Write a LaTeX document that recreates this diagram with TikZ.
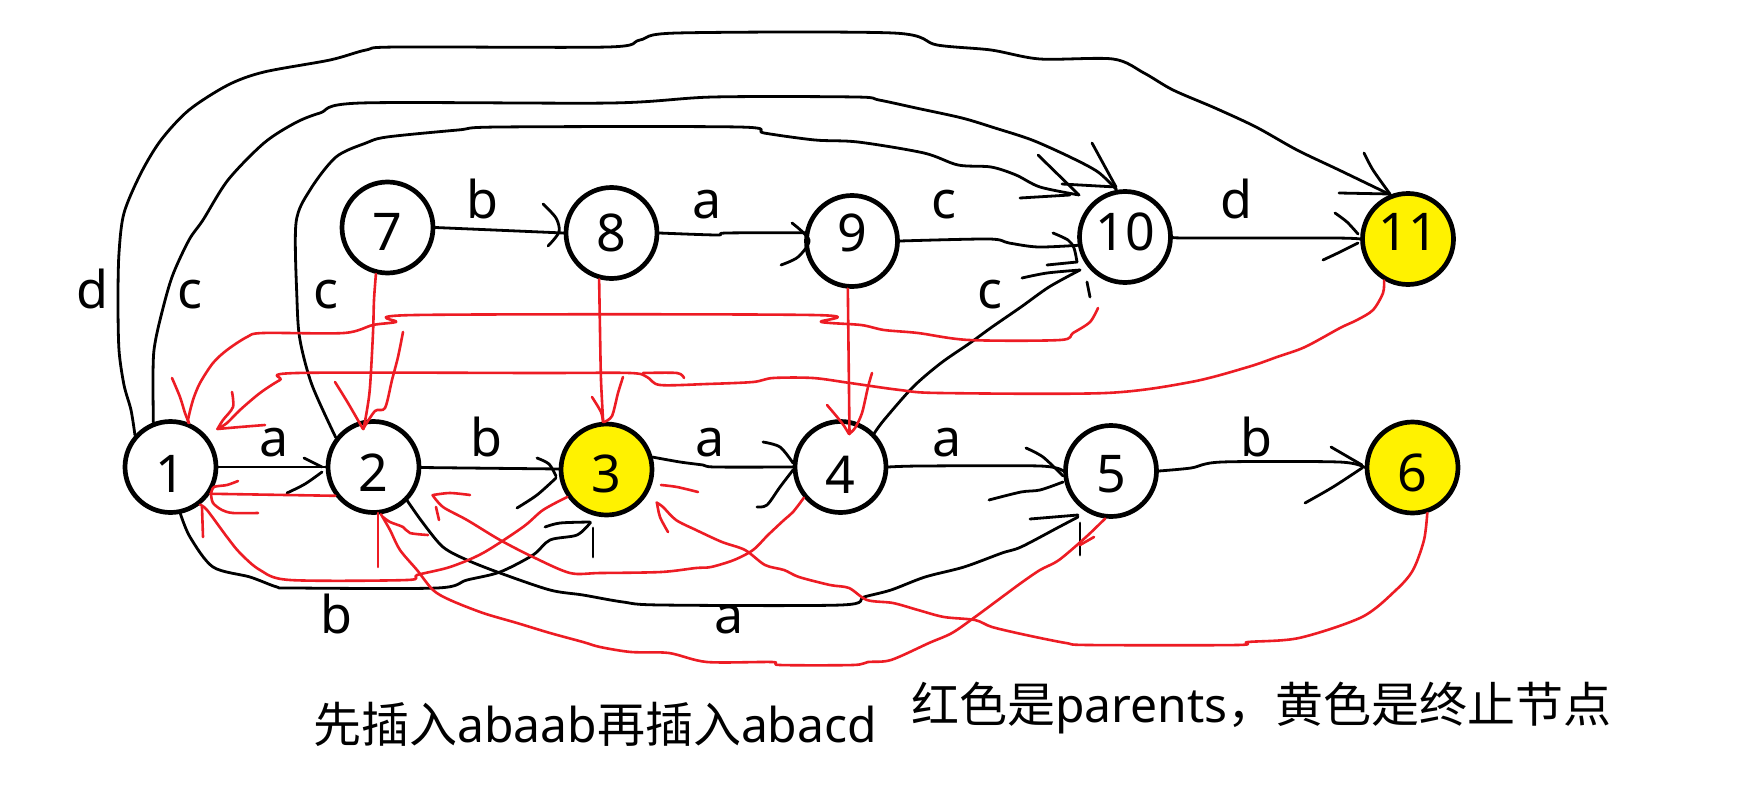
\documentclass[tikz,border=0pt]{standalone}
\usepackage{fontspec}
\setmainfont{Noto Sans}
\newfontfamily\cjk{Noto Sans CJK SC}
\usetikzlibrary{calc}
\definecolor{pred}{RGB}{237,28,36}
\definecolor{pyel}{RGB}{255,242,0}
\begin{document}
\begin{tikzpicture}[x=1pt,y=-1pt,
  st/.style={circle,draw=black,line width=4.7pt,minimum size=91pt,inner sep=0pt,fill=white},
  fin/.style={st,fill=pyel},
  dig/.style={font=\fontsize{52}{60}\selectfont,inner sep=0pt},
  blk/.style={draw=black,line width=2.8pt,line cap=round,line join=round},
  rd/.style={draw=pred,line width=2.6pt,line cap=round,line join=round},
  lab/.style={font=\fontsize{52}{60}\selectfont,anchor=base,inner sep=0pt},
  sm/.style={smooth,tension=0.5},
  txt/.style={font=\fontsize{48}{58}\selectfont,anchor=base west,inner sep=0pt}
]
\fill[white] (0,0) rectangle (1742,800);
\useasboundingbox (0,0) rectangle (1742,800);

% states
\node[st]  (n1)  at (170.5,467) {};
\node[st]  (n2)  at (373.5,467) {};
\node[fin] (n3)  at (606.5,469.5) {};
\node[st]  (n4)  at (840.5,467) {};
\node[st]  (n5)  at (1111,471) {};
\node[fin] (n6)  at (1412.5,467.5) {};
\node[st]  (n7)  at (387.5,227.5) {};
\node[st]  (n8)  at (611.5,233) {};
\node[st]  (n9)  at (852,241) {};
\node[st]  (n10) at (1125,237) {};
\node[fin] (n11) at (1408,239) {};

\node[dig] (d1)  at (170.5,473.5) {1};
\node[dig] (d2)  at (373.5,473) {2};
\node[dig] (d3)  at (606.5,474) {3};
\node[dig] (d4)  at (840.5,475) {4};
\node[dig] (d5)  at (1111,474) {5};
\node[dig] (d6)  at (1412.5,473) {6};
\node[dig] (d7)  at (387.5,232) {7};
\node[dig] (d8)  at (611.5,232.5) {8};
\node[dig] (d9)  at (852,233) {9};
\node[dig] (d10) at (1125,231.5) {10};
\node[dig] (d11) at (1408,231.5) {11};

% edge labels
\node[lab] (lb78)  at (482,218) {b};
\node[lab] (la89)  at (707,218) {a};
\node[lab] (lc910) at (944,218) {c};
\node[lab] (ld1011) at (1236,218) {d};
\node[lab] (ld111) at (92,308) {d};
\node[lab] (lc110) at (190,308) {c};
\node[lab] (lc210) at (326,308) {c};
\node[lab] (lc410) at (990,308) {c};
\node[lab] (la12)  at (274,456) {a};
\node[lab] (lb23)  at (486,456) {b};
\node[lab] (la34)  at (710,456) {a};
\node[lab] (la45)  at (947,456) {a};
\node[lab] (lb56)  at (1256,456) {b};
\node[lab] (lb13)  at (336,633) {b};
\node[lab] (la25)  at (729,633) {a};

% ---------- black transitions ----------
% 1 -a-> 2
\draw[blk] (n1) -- (n2);
\draw[blk] (304,458) -- (322,467);
\draw[blk] plot[sm] coordinates {(287,493) (305,484) (322,472)};
% 2 -b-> 3
\draw[blk] (n2) -- (n3);
\draw[blk] plot[sm] coordinates {(537,458) (549,464) (556,476)};
\draw[blk] plot[sm] coordinates {(517,508) (537,495) (556,478)};
% 3 -a-> 4
\draw[blk] plot[sm] coordinates {(n3.15) (680,462) (703,465) (715,467) (n4.west)};
\draw[blk] plot[sm] coordinates {(763,442) (780,447) (793,463)};
\draw[blk] plot[sm] coordinates {(757,507) (767,505) (780,487) (793,470)};
% 4 -a-> 5
\draw[blk] plot[sm] coordinates {(n4.east) (921,466) (1040,466) (n5.west)};
\draw[blk] plot[sm] coordinates {(1026,448) (1043,457) (1063,476)};
\draw[blk] plot[sm] coordinates {(989,500) (1021,492) (1040,490) (1063,482)};
% 5 -b-> 6
\draw[blk] plot[sm] coordinates {(n5.east) (1191,468) (1222,462) (1339,462) (n6.west)};
\draw[blk] (1331,447) -- (1362,465);
\draw[blk] plot[sm] coordinates {(1305,503) (1333,487) (1362,468)};
% 7 -b-> 8
\draw[blk] (n7.east) -- (n8.west);
\draw[blk] plot[sm] coordinates {(543,204) (556,218) (559,232) (548,246)};
% 8 -a-> 9
\draw[blk] plot[sm] coordinates {(n8.east) (717,235) (726,233) (n9.170)};
\draw[blk] plot[sm] coordinates {(792,223) (809,240) (798,257) (781,265)};
% 9 -c-> 10
\draw[blk] plot[sm] coordinates {(n9.east) (989,239) (1009,243) (1038,247) (n10.190)};
\draw[blk] plot[sm] coordinates {(1053,233) (1068,240) (1074,248) (1077,262)};
\draw[blk] (1047,265) -- (1077,262);
% 10 -d-> 11
\draw[blk] plot[sm] coordinates {(n10.east) (1186,238) (1333,238) (n11.west)};
\draw[blk] plot[sm] coordinates {(1335,213) (1347,222) (1358,234)};
\draw[blk] plot[sm] coordinates {(1323,260) (1340,252) (1358,243)};
% 1 -d-> 11
\draw[blk] plot[sm] coordinates {(n1.138) (131,410) (124,385) (119,350) (118,300) (119,253) (124,213) (141,173) (161,140) (189,110) (228,85) (264,72) (330,60) (366,50) (397,47) (608,47) (640,40) (677,33) (893,33) (937,45) (991,50) (1040,59) (1113,59) (1144,73) (1173,90) (1215,108) (1256,127) (1297,150) (1339,170) (n11.112)};
\draw[blk] plot[sm] coordinates {(1364,153) (1373,170) (1390,194)};
\draw[blk] (1339,193) -- (1390,194);
% 1 -c-> 10
\draw[blk] plot[sm] coordinates {(n1.111) (153,380) (154,350) (160,320) (172,277) (189,240) (203,220) (228,180) (264,143) (295,123) (320,113) (361,103) (611,103) (713,97) (856,97) (879,100) (916,108) (962,118) (995,128) (1032,140) (1070,157) (1098,172) (n10.100)};
\draw[blk] (1092,143) -- (1116,187);
\draw[blk] (1062,184) -- (1116,187);
% 2 -c-> 10
\draw[blk] plot[sm] coordinates {(n2.142) (312,385) (300,340) (297,300) (296,223) (310,190) (336,157) (366,143) (387,137) (458,130) (499,127) (739,127) (764,133) (815,140) (858,142) (924,153) (958,165) (991,167) (1016,175) (1040,187) ($(n10)+(-46,-42)$)};
\draw[blk] (1038,155) -- (1079,195);
\draw[blk] (1020,198) -- (1070,195);
% 4 -c-> 10
\draw[blk] plot[sm] coordinates {(n4.45) (884,420) (913,387) (941,363) (970,343) (992,327) (1021,307) (1049,287) ($(n10)+(-45,33)$)};
\draw[blk] plot[sm] coordinates {(1022,278) (1047,273) (1080,270)};
\draw[blk] (1087,282) -- (1090,297);
% 1 -b-> 3
\draw[blk] plot[sm] coordinates {(n1.-78) (190,537) (213,567) (250,577) (277,587) (293,588) (437,588) (467,580) (500,572) (533,555) (550,540) (577,535) ($(n3)+(-16,53)$)};
\draw[blk] plot[sm] coordinates {(545,527) (560,523) (590,522)};
\draw[blk] (593,528) -- (593,557);
% 2 -a-> 5
\draw[blk] plot[sm] coordinates {(n2.-45) (423,523) (443,547) (467,560) (500,573) (550,590) (583,595) (623,602) (661,605) (841,605) (864,597) (891,590) (925,577) (964,567) (1002,553) (1021,547) (1059,527) ($(n5)+(-33,46)$)};
\draw[blk] (1030,519) -- (1078,515);
\draw[blk] (1080,523) -- (1080,555);

% ---------- red parent links ----------
% 7 -> 2
\draw[rd] plot[sm] coordinates {(n7.-104) (374,300) (373,333) (370,387) (367,410) ($(n2)+(-10,-38)$)};
\draw[rd] plot[sm] coordinates {(335,382) (348,403) (363,429)};
\draw[rd] plot[sm] coordinates {(403,332) (398,357) (392,380) (385,408) (375,411) (363,429)};
% 8 -> 3
\draw[rd] plot[sm] coordinates {(n8.-105) (600,330) (601,380) (n3.94)};
\draw[rd] plot[sm] coordinates {(592,397) (601,412) (603,422)};
\draw[rd] plot[sm] coordinates {(623,377) (618,393) (612,416) (604,422)};
% 9 -> 4
\draw[rd] (n9.-95) -- ($(n4)+(9,-33)$);
\draw[rd] plot[sm] coordinates {(827,405) (842,423) (849,434)};
\draw[rd] plot[sm] coordinates {(872,373) (868,387) (862,413) (855,428) (849,434)};
% 2 -> 1
\draw[rd] (n2.217) -- (n1.-34);
\draw[rd] plot[sm] coordinates {(238,481) (227,485) (214,487) (211,494)};
\draw[rd] plot[sm] coordinates {(211,494) (213,503) (222,510) (233,513) (258,513)};
% 3 -> 1
\draw[rd] plot[sm] coordinates {(n3.215) (543,510) (523,527) (483,553) (450,567) (417,575) (407,580) (290,580) (260,570) (240,553) (227,537) (207,510) (n1.-52)};
\draw[rd] (202,507) -- (203,537);
% 4 -> 2
\draw[rd] plot[sm] coordinates {(n4.220) (793,512) (784,520) (768,535) (753,550) (734,560) (711,567) (696,568) (661,572) (600,573) (570,573) (533,557) (500,540) (467,520) (443,507) ($(n2)+(59,28)$)};
\draw[rd] plot[sm] coordinates {(433,495) (450,493) (470,495)};
\draw[rd] (436,507) -- (439,520);
% 5 -> 2
\draw[rd] plot[sm] coordinates {(n5.-97) (1086,537) (1059,560) (1040,570) (1021,583) (998,600) (975,617) (952,633) (929,643) (891,660) (868,662) (853,665) (780,665) (772,662) (707,662) (669,653) (631,652) (600,647) (583,642) (550,633) (517,623) (483,613) (450,600) (433,590) (417,570) (400,550) (390,530) (n2.-81)};
\draw[rd] (378,513) -- (378,567);
\draw[rd] plot[sm] coordinates {(383,517) (390,522) (403,527) (410,533) (428,535)};
\draw[rd] (1080,545) -- (1094,537);
% 6 -> 3
\draw[rd] plot[sm] coordinates {(n6.-72) (1424,540) (1413,570) (1396,590) (1362,617) (1299,638) (1248,642) (1237,645) (1089,645) (1066,643) (1026,635) (992,627) (975,620) (944,617) (918,610) (893,603) (867,600) (849,588) (830,585) (799,577) (784,570) (765,565) (745,550) (722,542) (696,530) (676,520) (663,507) ($(n3)+(50,33)$)};
\draw[rd] plot[sm] coordinates {(661,485) (677,487) (698,492)};
\draw[rd] plot[sm] coordinates {(657,503) (660,517) (668,532)};
% 10 -> 1
\draw[rd] plot[sm] coordinates {($(n10)+(-27,71)$) (1090,322) (1073,333) (1060,340) (969,340) (918,333) (884,330) (861,325) (821,322) (812,315) (416,315) (396,322) (373,325) (344,333) (263,333) (247,337) (227,350) (213,363) (200,383) (193,400) (188,420) (n1.67)};
\draw[rd] plot[sm] coordinates {(172,378) (180,397) (185,413) (189,423)};
% 11 -> 1
\draw[rd] plot[sm] coordinates {(n11.-120) (1383,293) (1373,310) (1357,320) (1340,328) (1305,347) (1277,357) (1248,367) (1191,382) (1106,393) (940,393) (900,390) (850,383) (813,378) (773,378) (753,382) (707,384) (660,385) (647,377) (630,373) (540,373) (297,373) (280,380) (260,393) (240,410) (227,423) ($(n1)+(47,-38)$)};
\draw[rd] plot[sm] coordinates {(643,373) (677,373) (684,378)};
\draw[rd] plot[sm] coordinates {(232,392) (233,407) (223,420) (217.5,429)};
\draw[rd] plot[sm] coordinates {(217.5,429) (240,427) (265,425)};

% captions
\node[txt] (t1) at (313,742) {{\cjk 先插入}abaab{\cjk 再插入}abacd};
\node[txt] (t2) at (911,722) {{\cjk 红色是}parents{\cjk ，黄色是终止节点}};
\end{tikzpicture}
\end{document}
